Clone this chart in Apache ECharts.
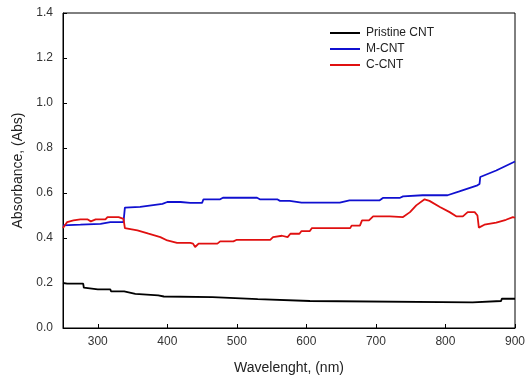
<!DOCTYPE html>
<html><head><meta charset="utf-8">
<script src="https://cdn.jsdelivr.net/npm/echarts@6/dist/echarts.min.js"></script>
<style>html,body{margin:0;padding:0;background:#fff}#c{width:531px;height:380px}</style>
</head><body><div id="c"></div>
<script>
const xTicks = [300, 400, 500, 600, 700, 800, 900];
const yTicks = [0, 0.2, 0.4, 0.6, 0.8, 1.0, 1.2, 1.4];
const seriesNames = ['Pristine CNT', 'M-CNT', 'C-CNT'];

const pristineWl = [250, 256, 279, 280, 300, 318, 319, 338, 339, 354, 355, 387, 388, 395, 465, 466, 530, 531, 605, 606, 839, 840, 880, 881, 900];
const pristineAbs = [0.200, 0.197, 0.197, 0.179, 0.172, 0.172, 0.163, 0.163, 0.158, 0.152, 0.148, 0.145, 0.142, 0.140, 0.137, 0.130, 0.128, 0.121, 0.120, 0.114, 0.114, 0.120, 0.120, 0.130, 0.130];

const mWl = [250, 275, 304, 318, 337, 339, 361, 393, 400, 419, 433, 450, 452, 476, 480, 529, 533, 558, 562, 576, 593, 648, 662, 705, 710, 734, 739, 767, 803, 820, 846, 849, 850, 873, 900];
const mAbs = [0.456, 0.459, 0.463, 0.471, 0.471, 0.535, 0.538, 0.552, 0.560, 0.560, 0.556, 0.556, 0.572, 0.572, 0.579, 0.579, 0.572, 0.572, 0.565, 0.565, 0.557, 0.557, 0.567, 0.567, 0.578, 0.578, 0.585, 0.590, 0.590, 0.607, 0.634, 0.640, 0.671, 0.700, 0.740];

const cWl = [250, 256, 265, 275, 285, 290, 297, 311, 314, 330, 337, 339, 357, 373, 390, 400, 414, 433, 437, 440, 445, 472, 476, 495, 500, 548, 552, 565, 573, 577, 590, 593, 605, 608, 663, 665, 677, 680, 690, 696, 720, 739, 749, 758, 770, 777, 792, 806, 816, 825, 832, 842, 846, 848, 856, 873, 887, 897, 900];
const cAbs = [0.444, 0.471, 0.478, 0.483, 0.483, 0.474, 0.483, 0.483, 0.493, 0.493, 0.485, 0.444, 0.434, 0.419, 0.404, 0.389, 0.378, 0.378, 0.375, 0.360, 0.375, 0.375, 0.385, 0.385, 0.392, 0.392, 0.404, 0.410, 0.404, 0.419, 0.419, 0.431, 0.431, 0.444, 0.444, 0.455, 0.455, 0.478, 0.478, 0.496, 0.496, 0.493, 0.515, 0.545, 0.572, 0.565, 0.538, 0.515, 0.496, 0.496, 0.515, 0.515, 0.500, 0.446, 0.459, 0.468, 0.481, 0.493, 0.490];

const colors = ['#000000', '#1010d0', '#e01010'];
const zip = (a, b) => a.map((v, i) => [v, b[i]]);
const chart = echarts.init(document.getElementById('c'), null, {renderer: 'canvas'});
const font = 'Liberation Sans, Arial, sans-serif';
chart.setOption({
  animation: false,
  color: colors,
  textStyle: {fontFamily: font},
  grid: {left: 63, right: 16, top: 13, bottom: 51, show: true, borderColor: '#000', borderWidth: 1},
  legend: {
    orient: 'vertical', left: 330, top: 27, padding: 0, itemWidth: 30, itemHeight: 2, itemGap: 4,
    icon: 'rect', data: seriesNames,
    textStyle: {fontSize: 12, color: '#222', fontFamily: font, padding: [0,0,0,1]}
  },
  xAxis: {
    type: 'value', min: 250, max: 900,
    name: 'Wavelenght, (nm)', nameLocation: 'middle', nameGap: 33,
    nameTextStyle: {fontSize: 14, color: '#222', fontFamily: font},
    axisLine: {lineStyle: {color: '#000', width: 1}},
    axisTick: {inside: true, length: 4, customValues: xTicks, lineStyle: {color: '#000'}},
    axisLabel: {customValues: xTicks, fontSize: 12, color: '#333', margin: 8, fontFamily: font},
    splitLine: {show: false}
  },
  yAxis: {
    type: 'value', min: 0, max: 1.4, interval: 0.2,
    name: 'Absorbance, (Abs)', nameLocation: 'middle', nameGap: 37,
    nameTextStyle: {fontSize: 14, color: '#222', fontFamily: font},
    axisLine: {show: true, lineStyle: {color: '#000', width: 1}},
    axisTick: {show: true, inside: true, length: 4, lineStyle: {color: '#000'}},
    axisLabel: {fontSize: 12, color: '#333', margin: 10, fontFamily: font, formatter: v => yTicks.includes(+v.toFixed(1)) ? v.toFixed(1) : ''},
    splitLine: {show: false}
  },
  series: [
    {name: seriesNames[0], type: 'line', showSymbol: false, data: zip(pristineWl, pristineAbs), lineStyle: {width: 1.8}},
    {name: seriesNames[1], type: 'line', showSymbol: false, data: zip(mWl, mAbs), lineStyle: {width: 1.8}},
    {name: seriesNames[2], type: 'line', showSymbol: false, data: zip(cWl, cAbs), lineStyle: {width: 1.8}}
  ]
});
</script></body></html>
